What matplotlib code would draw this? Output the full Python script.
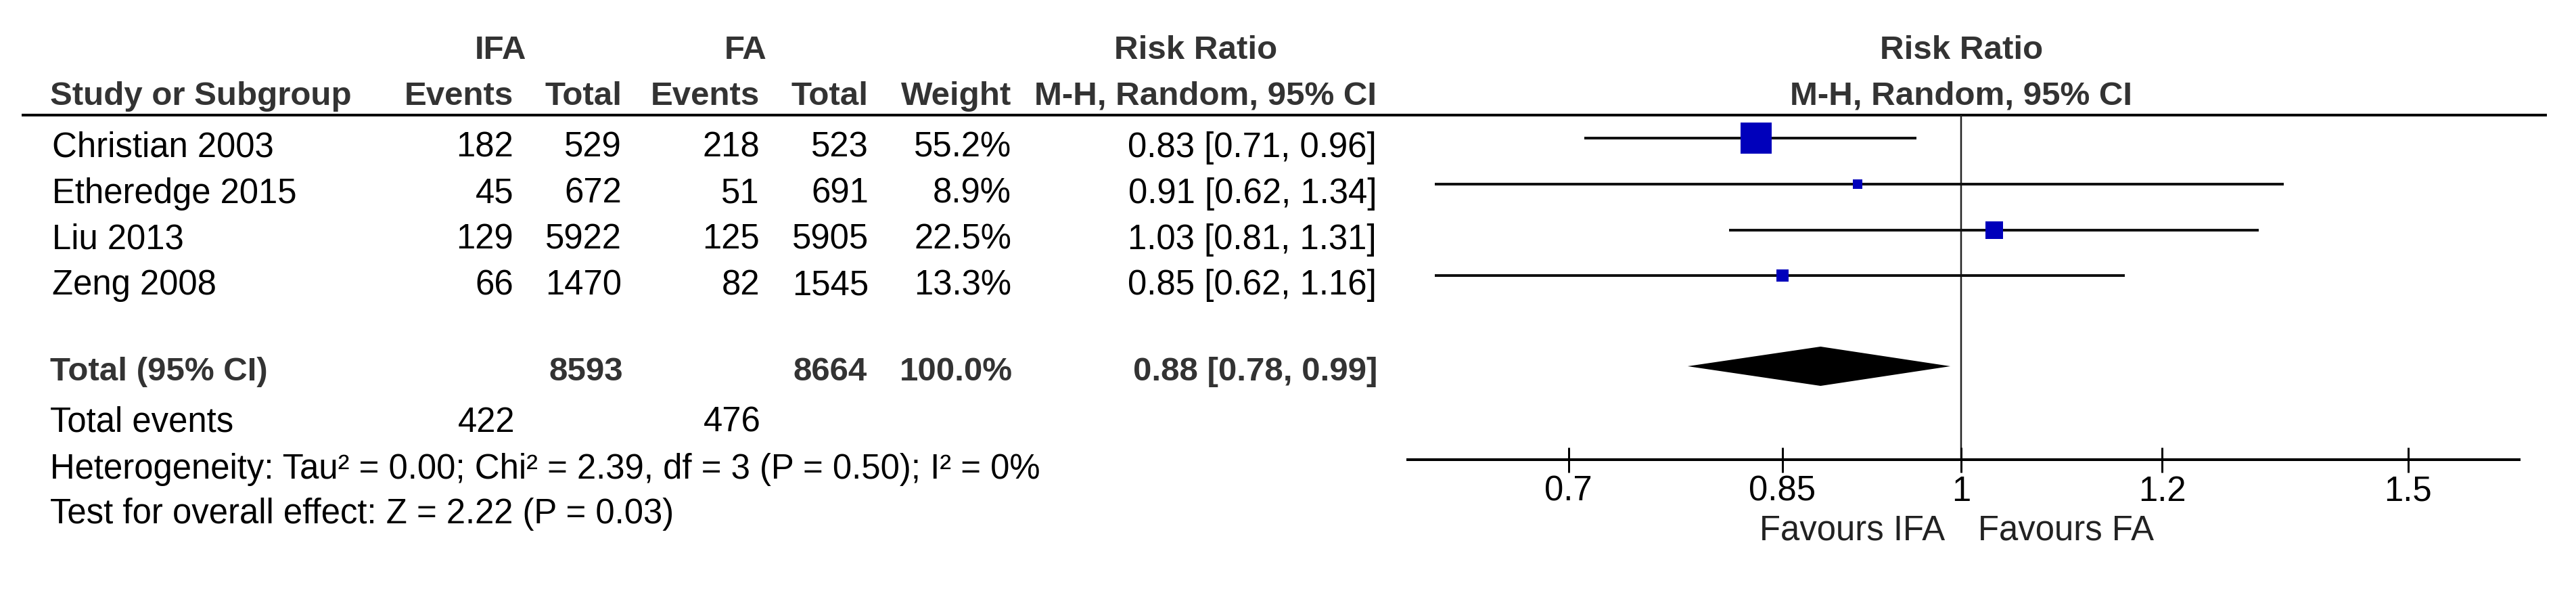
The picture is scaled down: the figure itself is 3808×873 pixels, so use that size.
import matplotlib
matplotlib.use("Agg")
import matplotlib.pyplot as plt
import numpy as np

# ---------------- data ----------------
studies = ["Christian 2003", "Etheredge 2015", "Liu 2013", "Zeng 2008"]
ifa_events = [182, 45, 129, 66]
ifa_total = [529, 672, 5922, 1470]
fa_events = [218, 51, 125, 82]
fa_total = [523, 691, 5905, 1545]
weights = [55.2, 8.9, 22.5, 13.3]
rr = [0.83, 0.91, 1.03, 0.85]
ci_lo = [0.71, 0.62, 0.81, 0.62]
ci_hi = [0.96, 1.34, 1.31, 1.16]

total_ifa = 8593
total_fa = 8664
total_weight = 100.0
total_rr = 0.88
total_lo = 0.78
total_hi = 0.99
events_ifa_sum = 422
events_fa_sum = 476

heterogeneity = "Heterogeneity: Tau² = 0.00; Chi² = 2.39, df = 3 (P = 0.50); I² = 0%"
overall = "Test for overall effect: Z = 2.22 (P = 0.03)"

tick_values = [0.7, 0.85, 1, 1.2, 1.5]
tick_labels = ["0.7", "0.85", "1", "1.2", "1.5"]
favours_left = "Favours IFA"
favours_right = "Favours FA"

# ---------------- layout ----------------
W, H, DPI = 3808, 873, 100
FONT = "Liberation Sans"
FS = 36.6
FSB = 35.5
BOLDC = "#333333"
px = 72.0 / DPI  # points per pixel

fig = plt.figure(figsize=(W / DPI, H / DPI), dpi=DPI)
fig.patch.set_facecolor("white")

tax = fig.add_axes([0, 0, 1, 1])
tax.set_xlim(0, W)
tax.set_ylim(H, 0)
tax.axis("off")

fax_left, fax_right = 2081, 3724
fax = fig.add_axes([fax_left / W, 0, (fax_right - fax_left) / W, 1])
fax.set_xscale("log")
fax.set_xlim(0.605, 1.659)
fax.set_ylim(H, 0)
fax.patch.set_alpha(0)
for s in ["top", "left", "right"]:
    fax.spines[s].set_visible(False)
axis_y = 679
fax.spines["bottom"].set_position(("data", axis_y))
fax.spines["bottom"].set_linewidth(4 * px)
fax.set_yticks([])
fax.xaxis.set_minor_locator(matplotlib.ticker.NullLocator())
fax.set_xticks(tick_values)
fax.set_xticklabels([""] * len(tick_values))
fax.xaxis.set_minor_locator(matplotlib.ticker.NullLocator())
fax.tick_params(axis="x", which="major", direction="inout", length=37 * px,
                width=3 * px, color="black")

def t(x, y, s, ha="left", bold=False, color=None, ax=None):
    ax = ax or tax
    ax.text(x, y, s, ha=ha, va="baseline", family=FONT,
            fontsize=FSB if bold else FS,
            fontweight="bold" if bold else "normal",
            color=color or (BOLDC if bold else "black"))

# column positions (right edges)
c_name = 77
c_ie, c_it, c_fe, c_ft, c_w, c_ci = 759, 919, 1123, 1284, 1495, 2035

# headers
t(740, 87, "IFA", ha="center", bold=True)
t(1102, 87, "FA", ha="center", bold=True)
t(1768, 87, "Risk Ratio", ha="center", bold=True)
t(c_name - 3, 155, "Study or Subgroup", bold=True)
t(c_ie, 155, "Events", ha="right", bold=True)
t(c_it, 155, "Total", ha="right", bold=True)
t(c_fe, 155, "Events", ha="right", bold=True)
t(c_ft, 155, "Total", ha="right", bold=True)
t(c_w, 155, "Weight", ha="right", bold=True)
t(c_ci, 155, "M-H, Random, 95% CI", ha="right", bold=True)

# right header centered on the line of no effect
fax.text(1, 87, "Risk Ratio", ha="center", va="baseline", family=FONT,
         fontsize=FSB, fontweight="bold", color=BOLDC)
fax.text(1, 155, "M-H, Random, 95% CI", ha="center", va="baseline", family=FONT,
         fontsize=FSB, fontweight="bold", color=BOLDC)

tax.hlines(170, 32, 3765, color="black", lw=4 * px)

row0, dy = 204, 67.8
max_side = 46
for i, name in enumerate(studies):
    ym = row0 + i * dy
    yb = ym + 28
    t(c_name, yb, name)
    t(c_ie, yb, str(ifa_events[i]), ha="right")
    t(c_it, yb, str(ifa_total[i]), ha="right")
    t(c_fe, yb, str(fa_events[i]), ha="right")
    t(c_ft, yb, str(fa_total[i]), ha="right")
    t(c_w, yb, f"{weights[i]:.1f}%", ha="right")
    t(c_ci, yb, f"{rr[i]:.2f} [{ci_lo[i]:.2f}, {ci_hi[i]:.2f}]", ha="right")
    fax.hlines(ym, ci_lo[i], ci_hi[i], color="#111111", lw=4 * px, zorder=2)
    side = max_side * (weights[i] / max(weights)) ** 0.67
    fax.plot([rr[i]], [ym], marker="s", markersize=side * px, mew=0,
             color="#0000BB", zorder=3)

# total row
ty = 541
t(c_name - 3, ty + 21, "Total (95% CI)", bold=True)
t(c_it + 2, ty + 21, str(total_ifa), ha="right", bold=True)
t(c_ft - 2, ty + 21, str(total_fa), ha="right", bold=True)
t(c_w + 2, ty + 21, f"{total_weight:.1f}%", ha="right", bold=True)
t(c_ci + 1, ty + 21, f"{total_rr:.2f} [{total_lo:.2f}, {total_hi:.2f}]", ha="right", bold=True)
fax.fill([total_lo, total_rr, total_hi, total_rr], [ty, ty - 29, ty, ty + 29],
         color="black", lw=0, zorder=3)

t(c_name - 3, 638, "Total events")
t(c_ie + 2, 638, str(events_ifa_sum), ha="right")
t(c_fe + 2, 638, str(events_fa_sum), ha="right")
t(c_name - 3, 707, heterogeneity)
t(c_name - 3, 773, overall)

# line of no effect
fax.vlines(1, 170, axis_y, color="#222222", lw=2.5 * px, zorder=1)

# tick labels and favours
for v, lab in zip(tick_values, tick_labels):
    fax.text(v, 740, lab, ha="center", va="baseline", family=FONT, fontsize=FS,
             color="black")
fax.text(0.985, 798, favours_left, ha="right", va="baseline", family=FONT,
         fontsize=FS, color="#222222")
fax.text(1.015, 798, favours_right, ha="left", va="baseline", family=FONT,
         fontsize=FS, color="#222222")

fig.savefig("out.png", dpi=DPI, facecolor="white")
